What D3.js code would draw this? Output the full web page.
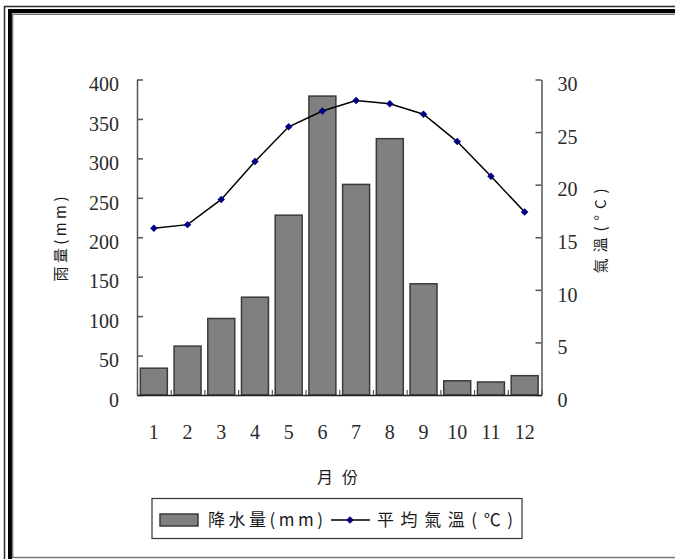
<!DOCTYPE html>
<html>
<head>
<meta charset="utf-8">
<script src="https://cdn.jsdelivr.net/npm/d3@7"></script>
<style>
  body { margin: 0; background: #fff; overflow: hidden; }
  svg { display: block; }
</style>
</head>
<body>
<svg id="chart" width="675" height="559"></svg>
<script>
// Monthly climate data
const months = ["1", "2", "3", "4", "5", "6", "7", "8", "9", "10", "11", "12"];
const rainfall = [34, 62, 97, 124, 228, 379, 267, 325, 141, 18, 16.5, 24.5];      // mm
const temperature = [15.85, 16.2, 18.6, 22.2, 25.5, 27.0, 28.0, 27.7, 26.7, 24.1, 20.8, 17.4]; // °C
const rainTicks = [0, 50, 100, 150, 200, 250, 300, 350, 400];
const tempTicks = [0, 5, 10, 15, 20, 25, 30];

const svg = d3.select("#chart");
const W = 675, H = 559;
const NUM_FONT = "'Liberation Serif', 'Times New Roman', serif";
const CJK_FONT = "'Noto Sans CJK TC', 'Noto Sans CJK SC', sans-serif";
const TEXT = "#1a1a1a";

svg.append("rect").attr("width", W).attr("height", H).attr("fill", "#fff");

// Outer frame: thin line, thick black band, grey inner line (left, top and bottom edges)
const frame = svg.append("g").attr("fill", "none");
frame.append("path").attr("d", `M4.5,${H} V6.5 H${W}`)
  .attr("stroke", "#2a2a2a").attr("stroke-width", 1.5);
frame.append("path").attr("d", `M10,${H} V11 H${W}`)
  .attr("stroke", "#000").attr("stroke-width", 4);
frame.append("path").attr("d", `M${W},14.2 H12.6 V557.5 H${W}`)
  .attr("stroke", "#777").attr("stroke-width", 1.5);

// Plot geometry
const plotLeft = 137, plotRight = 541.5, plotTop = 79.5, plotBottom = 395;

const x = d3.scaleBand().domain(months).range([plotLeft, plotRight]).paddingInner(0.2).paddingOuter(0.1);
const xEdges = d3.scaleLinear().domain([0, months.length]).range([plotLeft, plotRight]);
const yRain = d3.scaleLinear().domain([0, 400]).range([plotBottom, plotTop]);
const yTemp = d3.scaleLinear().domain([0, 30]).range([plotBottom, plotTop]);

// Bars: rainfall
svg.append("g").selectAll("rect").data(months).join("rect")
  .attr("x", (d) => x(d))
  .attr("y", (d, i) => yRain(rainfall[i]))
  .attr("width", x.bandwidth())
  .attr("height", (d, i) => plotBottom - yRain(rainfall[i]))
  .attr("fill", "#808080")
  .attr("stroke", "#3a3a3a")
  .attr("stroke-width", 1.5);

// Left axis (rainfall)
const gL = svg.append("g").attr("transform", `translate(${plotLeft},0)`)
  .call(d3.axisLeft(yRain).tickValues(rainTicks).tickSizeInner(-6).tickSizeOuter(0).tickPadding(18));
// Right axis (temperature)
const gR = svg.append("g").attr("transform", `translate(${plotRight},0)`)
  .call(d3.axisRight(yTemp).tickValues(tempTicks).tickSizeInner(-6).tickSizeOuter(0).tickPadding(16));
// Category boundary ticks along the bottom
const gE = svg.append("g").attr("transform", `translate(0,${plotBottom})`)
  .call(d3.axisBottom(xEdges).tickValues(d3.range(months.length + 1)).tickSizeInner(-5).tickSizeOuter(0).tickFormat(""));
// Month labels
const gB = svg.append("g").attr("transform", `translate(0,${plotBottom})`)
  .call(d3.axisBottom(x).tickSize(0).tickPadding(30));
gB.select(".domain").remove();

[gL, gR].forEach((g) => {
  g.select(".domain").attr("stroke", "#555").attr("stroke-width", 1.5);
  g.selectAll(".tick line").attr("stroke", "#555").attr("stroke-width", 1.5);
  g.selectAll(".tick text").attr("dy", "0.56em");
});
gE.select(".domain").attr("stroke", "#222").attr("stroke-width", 1.5);
gE.selectAll(".tick line").attr("stroke", "#555").attr("stroke-width", 1.2);

[gL, gR, gB].forEach((g) => {
  g.selectAll(".tick text")
    .attr("font-family", NUM_FONT)
    .attr("font-size", 20)
    .attr("fill", "#2a2a2a");
});

// Temperature line with diamond markers
const cx = (i) => x(months[i]) + x.bandwidth() / 2;
const line = d3.line().x((d, i) => cx(i)).y((d) => yTemp(d));
svg.append("path").datum(temperature)
  .attr("d", line)
  .attr("fill", "none")
  .attr("stroke", "#000")
  .attr("stroke-width", 1.5);

const diamond = d3.symbol(d3.symbolSquare, 28);
svg.append("g").selectAll("path").data(temperature).join("path")
  .attr("d", diamond)
  .attr("transform", (d, i) => `translate(${cx(i)},${yTemp(d)}) rotate(45)`)
  .attr("fill", "#000080");

// Axis titles
svg.append("text")
  .attr("transform", "translate(59,239) rotate(-90)")
  .attr("text-anchor", "middle").attr("dominant-baseline", "central")
  .attr("font-family", CJK_FONT).attr("font-size", 15).attr("fill", TEXT)
  .attr("textLength", 85).attr("lengthAdjust", "spacing")
  .text("雨量(mm)");

svg.append("text")
  .attr("transform", "translate(599,231) rotate(-90)")
  .attr("text-anchor", "middle").attr("dominant-baseline", "central")
  .attr("font-family", CJK_FONT).attr("font-size", 15).attr("fill", TEXT)
  .attr("textLength", 85).attr("lengthAdjust", "spacing")
  .text("氣溫(°C)");

svg.append("text")
  .attr("x", 317).attr("y", 483)
  .attr("font-family", CJK_FONT).attr("font-size", 16).attr("fill", TEXT)
  .attr("textLength", 41).attr("lengthAdjust", "spacing")
  .text("月份");

// Legend
const lg = svg.append("g");
lg.append("rect").attr("x", 152).attr("y", 498.5).attr("width", 370).attr("height", 40)
  .attr("fill", "#fff").attr("stroke", "#333").attr("stroke-width", 1.2);
lg.append("rect").attr("x", 160).attr("y", 514).attr("width", 38).attr("height", 12)
  .attr("fill", "#808080").attr("stroke", "#3a3a3a").attr("stroke-width", 1.5);
lg.append("text").attr("x", 208).attr("y", 526)
  .attr("font-family", CJK_FONT).attr("font-size", 17).attr("fill", TEXT)
  .attr("textLength", 115).attr("lengthAdjust", "spacing")
  .text("降水量(mm)");
lg.append("line").attr("x1", 331).attr("x2", 370).attr("y1", 520).attr("y2", 520)
  .attr("stroke", "#000").attr("stroke-width", 1.5);
lg.append("path").attr("d", diamond).attr("transform", "translate(350,520) rotate(45)")
  .attr("fill", "#000080");
lg.append("text").attr("x", 377).attr("y", 526)
  .attr("font-family", CJK_FONT).attr("font-size", 17).attr("fill", TEXT)
  .attr("textLength", 136).attr("lengthAdjust", "spacing")
  .text("平均氣溫(℃)");
</script>
</body>
</html>
